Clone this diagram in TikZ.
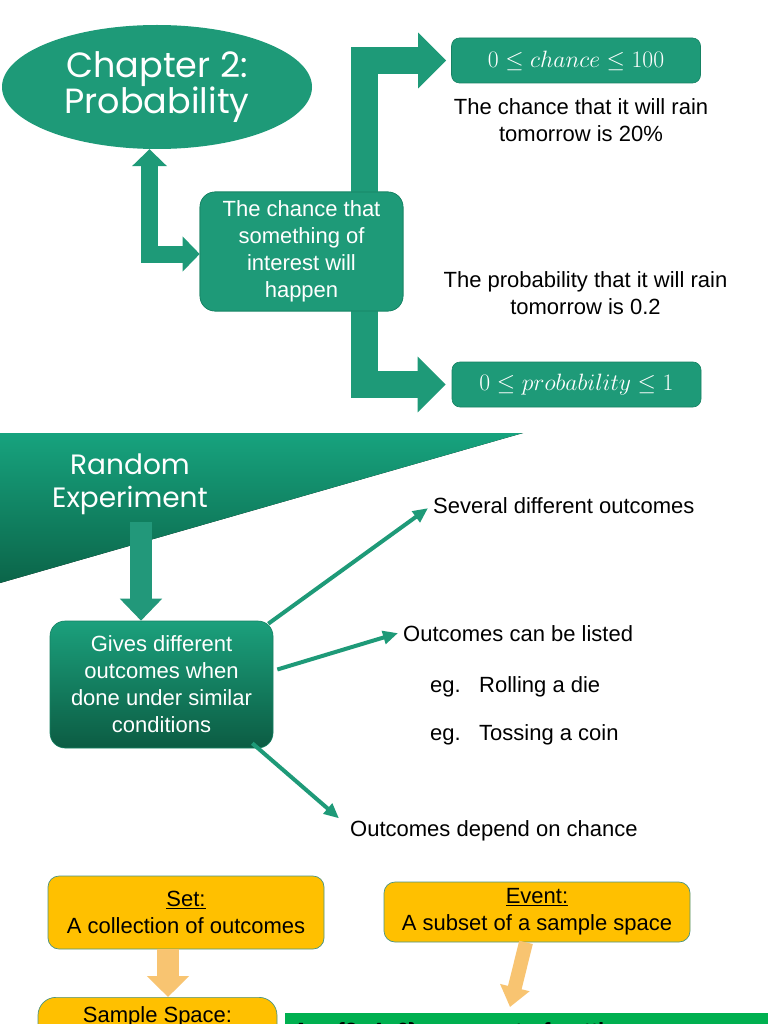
\documentclass[tikz,border=0pt]{standalone}
\usepackage{fontspec}
\setmainfont{Liberation Sans}
\newfontfamily\handfont{Poppins}
\usetikzlibrary{arrows.meta,shapes.geometric,calc}
\definecolor{tealg}{HTML}{1E9A78}
\definecolor{tealdark}{HTML}{168263}
\definecolor{tritop}{HTML}{17A37E}
\definecolor{tribot}{HTML}{0B6549}
\definecolor{boxtop}{HTML}{1BA07C}
\definecolor{boxbot}{HTML}{0C5C43}
\definecolor{downarr}{HTML}{22987A}
\definecolor{yel}{HTML}{FFC000}
\definecolor{yeledge}{HTML}{4A9483}
\definecolor{orangearr}{HTML}{F8C471}
\definecolor{barg}{HTML}{00B050}
\tikzset{
  greenbox/.style={draw=tealdark, line width=0.6pt, fill=tealg, rounded corners=15pt, text=white, align=center, inner sep=0pt},
  mathbox/.style={draw=tealdark, line width=0.6pt, fill=tealg, rounded corners=8pt, text=white, inner sep=0pt, minimum width=249pt, minimum height=45pt},
  ybox/.style={draw=yeledge, line width=0.7pt, fill=yel, rounded corners=11pt, align=center, inner sep=0pt},
  plain/.style={align=center, inner sep=0pt},
  lefttext/.style={anchor=base west, inner sep=0pt},
  fatarrow/.style={draw=tealg, line width=27pt, line join=miter, -{Triangle[length=28pt,width=54pt]}},
  elbowarrow/.style={draw=tealg, line width=17pt, line join=miter, {Triangle[length=17pt,width=34pt]}-{Triangle[length=17pt,width=34pt]}},
  downarrow/.style={draw=downarr, line width=22pt, -{Triangle[length=22pt,width=41pt]}},
  thinarrow/.style={draw=tealg, line width=4pt, -{Triangle[length=15pt,width=13pt]}},
  oarrow/.style={draw=orangearr, line width=22pt, -{Triangle[length=21pt,width=41pt]}},
  oarrowthin/.style={draw=orangearr, line width=14pt, -{Triangle[length=20pt,width=29pt]}}
}
\begin{document}
\begin{tikzpicture}[x=1pt,y=-1pt,font=\fontsize{22}{27}\selectfont]
\useasboundingbox (0,0) rectangle (768,1024);
\clip (0,0) rectangle (768,1024);
\fill[white] (0,0) rectangle (768,1024);

% ---------- Section 1 ----------
\node[ellipse, fill=tealg, minimum width=310pt, minimum height=124pt, inner sep=0pt,
      text=white, align=center, font=\handfont\fontsize{35}{34}\selectfont] (chap) at (157,87) {Chapter 2:\\Probability};

\node[greenbox, minimum width=203pt, minimum height=119pt] (chance) at (301.5,251.5) {};
\node[mathbox, font=\fontsize{23}{27}\selectfont] (mA) at (576,60.5) {\scalebox{0.95}{$0\le chance\le 100$}};
\node[mathbox, font=\fontsize{23}{27}\selectfont] (mB) at (576.5,384.5) {\scalebox{0.95}{$0\le probability\le 1$}};

\draw[fatarrow, shorten >=5pt] ([xshift=62.5pt,yshift=-10pt]chance.north) |- (mA.west);
\draw[fatarrow, shorten >=6pt] ([xshift=62.5pt,yshift=10pt]chance.south) |- (mB.west);
\draw[elbowarrow] ([xshift=-7.5pt]chap.south) |- ([yshift=-2.5pt]chance.west);

\node[greenbox, minimum width=203pt, minimum height=119pt] (chanceT) at (301.5,251.5) {The chance that\\something of\\interest will\\happen};

\node[plain] (rain) at (581,120.5) {The chance that it will rain\\tomorrow is 20\%};
\node[plain] (prob) at (585.5,293) {The probability that it will rain\\tomorrow is 0.2};

% ---------- Section 2 ----------
\fill[top color=tritop, bottom color=tribot] (0,433) -- (523,433) -- (0,583) -- cycle;
\coordinate (tri) at (141,522);
\node[plain, text=white, font=\handfont\fontsize{28}{33}\selectfont] (rexp) at (130,484) {Random\\Experiment};

\node[draw=tealdark, line width=0.6pt, top color=boxtop, bottom color=boxbot, rounded corners=15pt,
      text=white, align=center, inner sep=0pt, minimum width=223pt, minimum height=127pt] (gives) at (161.5,684.5)
      {Gives different\\outcomes when\\done under similar\\conditions};
\draw[downarrow] (tri) -- (gives.north -| tri);

\node[lefttext] (sev) at (433,513) {Several different outcomes};
\node[lefttext] (list) at (403,641) {Outcomes can be listed};
\node[lefttext] (die) at (430,692) {\makebox[49pt][l]{eg.}Rolling a die};
\node[lefttext] (coin) at (430,740) {\makebox[49pt][l]{eg.}Tossing a coin};
\node[lefttext] (dep) at (350,836) {Outcomes depend on chance};

\draw[thinarrow] ([xshift=-5pt,yshift=-3pt]gives.north east) -- ([xshift=-5pt,yshift=-3pt]sev.west);
\draw[thinarrow] ([xshift=4pt,yshift=15pt]gives.east) -- ([xshift=-5pt,yshift=0pt]list.west);
\draw[thinarrow] ([xshift=-21pt,yshift=5pt]gives.south east) -- ([xshift=-11pt,yshift=12pt]dep.west);

% ---------- Section 3 ----------
\node[ybox, minimum width=276pt, minimum height=73pt] (set) at (186,912.5) {\underline{Set:}\\A collection of outcomes};
\node[ybox, minimum width=306pt, minimum height=60pt] (event) at (537,912) {\underline{Event:}\\A subset of a sample space};
\node[ybox, rounded corners=18pt, anchor=north, minimum width=239pt, inner xsep=0pt, inner ysep=4pt,
      text height=21pt, text depth=40pt] (sample) at (157.5,997) {Sample Space:};
\node[fill=barg, anchor=north west, inner xsep=8pt, inner ysep=0pt, text width=467pt, align=left,
      text height=25pt, text depth=10pt, font=\bfseries\fontsize{22}{27}\selectfont] (ex) at (285,1013)
      {A = \{2, 4, 6\}\ \ an event of getting an even number};

\draw[oarrow] ([xshift=-18pt]set.south) -- ([xshift=10.5pt]sample.north);
\coordinate (evtip) at (510,1007);
\draw[oarrowthin] ([xshift=-11pt]event.south) -- (evtip);
\end{tikzpicture}
\end{document}
